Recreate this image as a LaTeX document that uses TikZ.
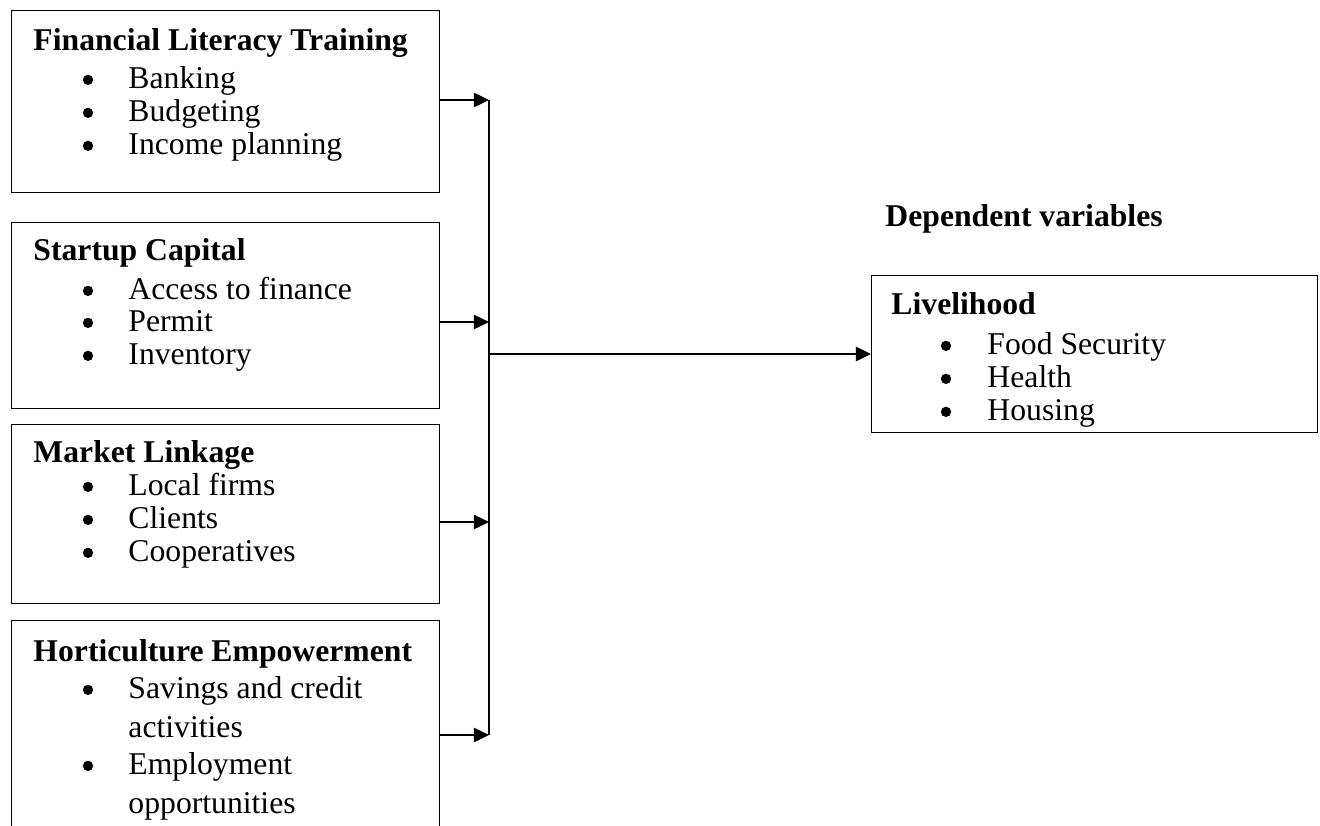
\documentclass[tikz,border=0pt]{standalone}
\usepackage{fontspec}
\setmainfont{Liberation Serif}
\usetikzlibrary{arrows.meta}
\begin{document}
\begin{tikzpicture}[x=0.41667pt,y=-0.41667pt,
  box/.style={draw,line width=0.55pt,rectangle,inner sep=0pt,anchor=north west},
  ttl/.style={anchor=base west,inner sep=0pt,font=\fontsize{13.2pt}{15pt}\selectfont\bfseries},
  itm/.style={anchor=base west,inner sep=0pt,font=\fontsize{13.2pt}{15pt}\selectfont},
  blt/.style={circle,fill=black,inner sep=0pt,minimum size=4.3pt,yshift=3.4pt},
  arr/.style={line width=0.6pt,-{Triangle[length=6.3pt,width=6pt]}},
  bus/.style={line width=0.6pt}]
\useasboundingbox (0,0) rectangle (1320,825);
\clip (0,0) rectangle (1320,825);
% boxes
\node[box,minimum width=428*0.41667pt,minimum height=182*0.41667pt] (b1) at (11,10) {};
\node[box,minimum width=428*0.41667pt,minimum height=186*0.41667pt] (b2) at (11,222) {};
\node[box,minimum width=428*0.41667pt,minimum height=179*0.41667pt] (b3) at (11,424) {};
\node[box,minimum width=428*0.41667pt,minimum height=230*0.41667pt] (b4) at (11,620) {};
\node[box,minimum width=446*0.41667pt,minimum height=157*0.41667pt] (liv) at (871,275) {};
% box 1
\node[ttl] (t1) at (33,50) {Financial Literacy Training};
\node[blt] (t1a) at (88,88) {}; \node[itm] (t1ax) at (128,88) {Banking};
\node[blt] (t1b) at (88,121) {}; \node[itm] (t1bx) at (128,121) {Budgeting};
\node[blt] (t1c) at (88,154) {}; \node[itm] (t1cx) at (128,154) {Income planning};
% box 2
\node[ttl] (t2) at (33,260) {Startup Capital};
\node[blt] (t2a) at (88,299) {}; \node[itm] (t2ax) at (128,299) {Access to finance};
\node[blt] (t2b) at (88,331) {}; \node[itm] (t2bx) at (128,331) {Permit};
\node[blt] (t2c) at (88,364) {}; \node[itm] (t2cx) at (128,364) {Inventory};
% box 3
\node[ttl] (t3) at (33,462) {Market Linkage};
\node[blt] (t3a) at (88,495) {}; \node[itm] (t3ax) at (128,495) {Local firms};
\node[blt] (t3b) at (88,528) {}; \node[itm] (t3bx) at (128,528) {Clients};
\node[blt] (t3c) at (88,561) {}; \node[itm] (t3cx) at (128,561) {Cooperatives};
% box 4
\node[ttl] (t4) at (33,661) {Horticulture Empowerment};
\node[blt] (t4a) at (88,698) {}; \node[itm] (t4ax) at (128,698) {Savings and credit};
\node[itm] (t4ay) at (128,737) {activities};
\node[blt] (t4b) at (88,774) {}; \node[itm] (t4bx) at (128,774) {Employment};
\node[itm] (t4by) at (128,813) {opportunities};
% dependent
\node[ttl] (dep) at (885,226) {Dependent variables};
\node[ttl] (t5) at (891,314) {Livelihood};
\node[blt] (t5a) at (946,354) {}; \node[itm] (t5ax) at (987,354) {Food Security};
\node[blt] (t5b) at (946,387) {}; \node[itm] (t5bx) at (987,387) {Health};
\node[blt] (t5c) at (946,420) {}; \node[itm] (t5cx) at (987,420) {Housing};
% connectors
\coordinate (j1) at (489,100);
\coordinate (j2) at (489,322);
\coordinate (j3) at (489,522);
\coordinate (j4) at (489,735);
\coordinate (jm) at (489,354);
\draw[arr] (b1.east |- j1) -- (j1);
\draw[arr] (b2.east |- j2) -- (j2);
\draw[arr] (b3.east |- j3) -- (j3);
\draw[arr] (b4.east |- j4) -- (j4);
\draw[bus] (j1) -- (j4);
\draw[arr] (jm) -- (jm -| liv.west);
\end{tikzpicture}
\end{document}
